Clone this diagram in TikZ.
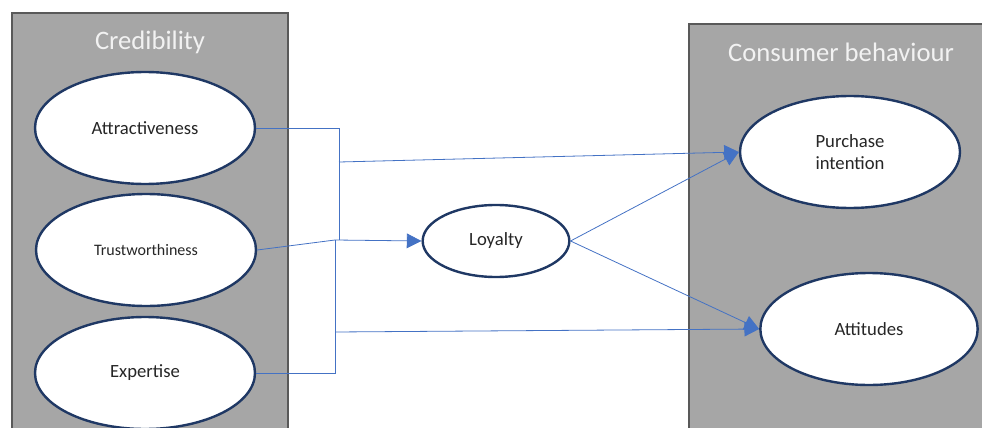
\documentclass[tikz,border=0pt]{standalone}
\usepackage{fontspec}
\setmainfont{Carlito}
\usetikzlibrary{shapes.geometric,arrows.meta}

\definecolor{panelgray}{HTML}{A6A6A6}
\definecolor{paneledge}{HTML}{595959}
\definecolor{ringblue}{HTML}{1F3864}
\definecolor{linkblue}{HTML}{4472C4}

\tikzset{
  panel/.style={fill=panelgray,draw=paneledge,line width=1.5pt},
  factor/.style={ellipse,draw=ringblue,fill=white,line width=1.8pt,inner sep=0pt,
    minimum width=165pt,minimum height=84pt,align=center,font=\fontsize{14}{16}\selectfont,text=black!85},
  title/.style={text=white!95!black,font=\fontsize{20}{24}\selectfont},
  link/.style={draw=linkblue,line width=0.6pt},
  arrow/.style={link,-{Triangle[length=11pt,width=11pt]}}
}

\begin{document}
\begin{tikzpicture}[x=0.75pt,y=-0.75pt]
\useasboundingbox (0,0) rectangle (982,428);
\draw [panel] (12,13) rectangle (288,440);
\draw [panel] (689,24) rectangle (995,440);
\node [title] (cred) at (150,42) {Credibility};
\node [title] (cons) at (841,52) {Consumer behaviour};

\node [factor] (attr) at (145,128) {Attractiveness};
\node [factor,font=\fontsize{12}{14}\selectfont] (trust) at (146,250) {Trustworthiness};
\node [factor] (expert) at (145,373) {Expertise};
\node [factor,minimum width=110pt,minimum height=54pt] (loyal) at (496,241) {Loyalty};
\node [factor] (purch) at (850,152) {Purchase\\intention};
\node [factor,minimum width=163pt] (attit) at (869,329) {Attitudes};

\coordinate (upper) at (339,240);
\coordinate (lower) at (335,240);
\coordinate (toprow) at (339,162);
\coordinate (botrow) at (335,332);

\draw [link] (attr.east) -| (upper);
\draw [link] (trust.east) -- (lower);
\draw [link] (expert.east) -| (lower);
\draw [arrow] (lower) -- (loyal.west);
\draw [arrow] (toprow) -- (purch.west);
\draw [arrow] (botrow) -- (attit.west);
\draw [arrow] (loyal.east) -- (purch.west);
\draw [arrow] (loyal.east) -- (attit.west);
\end{tikzpicture}
\end{document}
